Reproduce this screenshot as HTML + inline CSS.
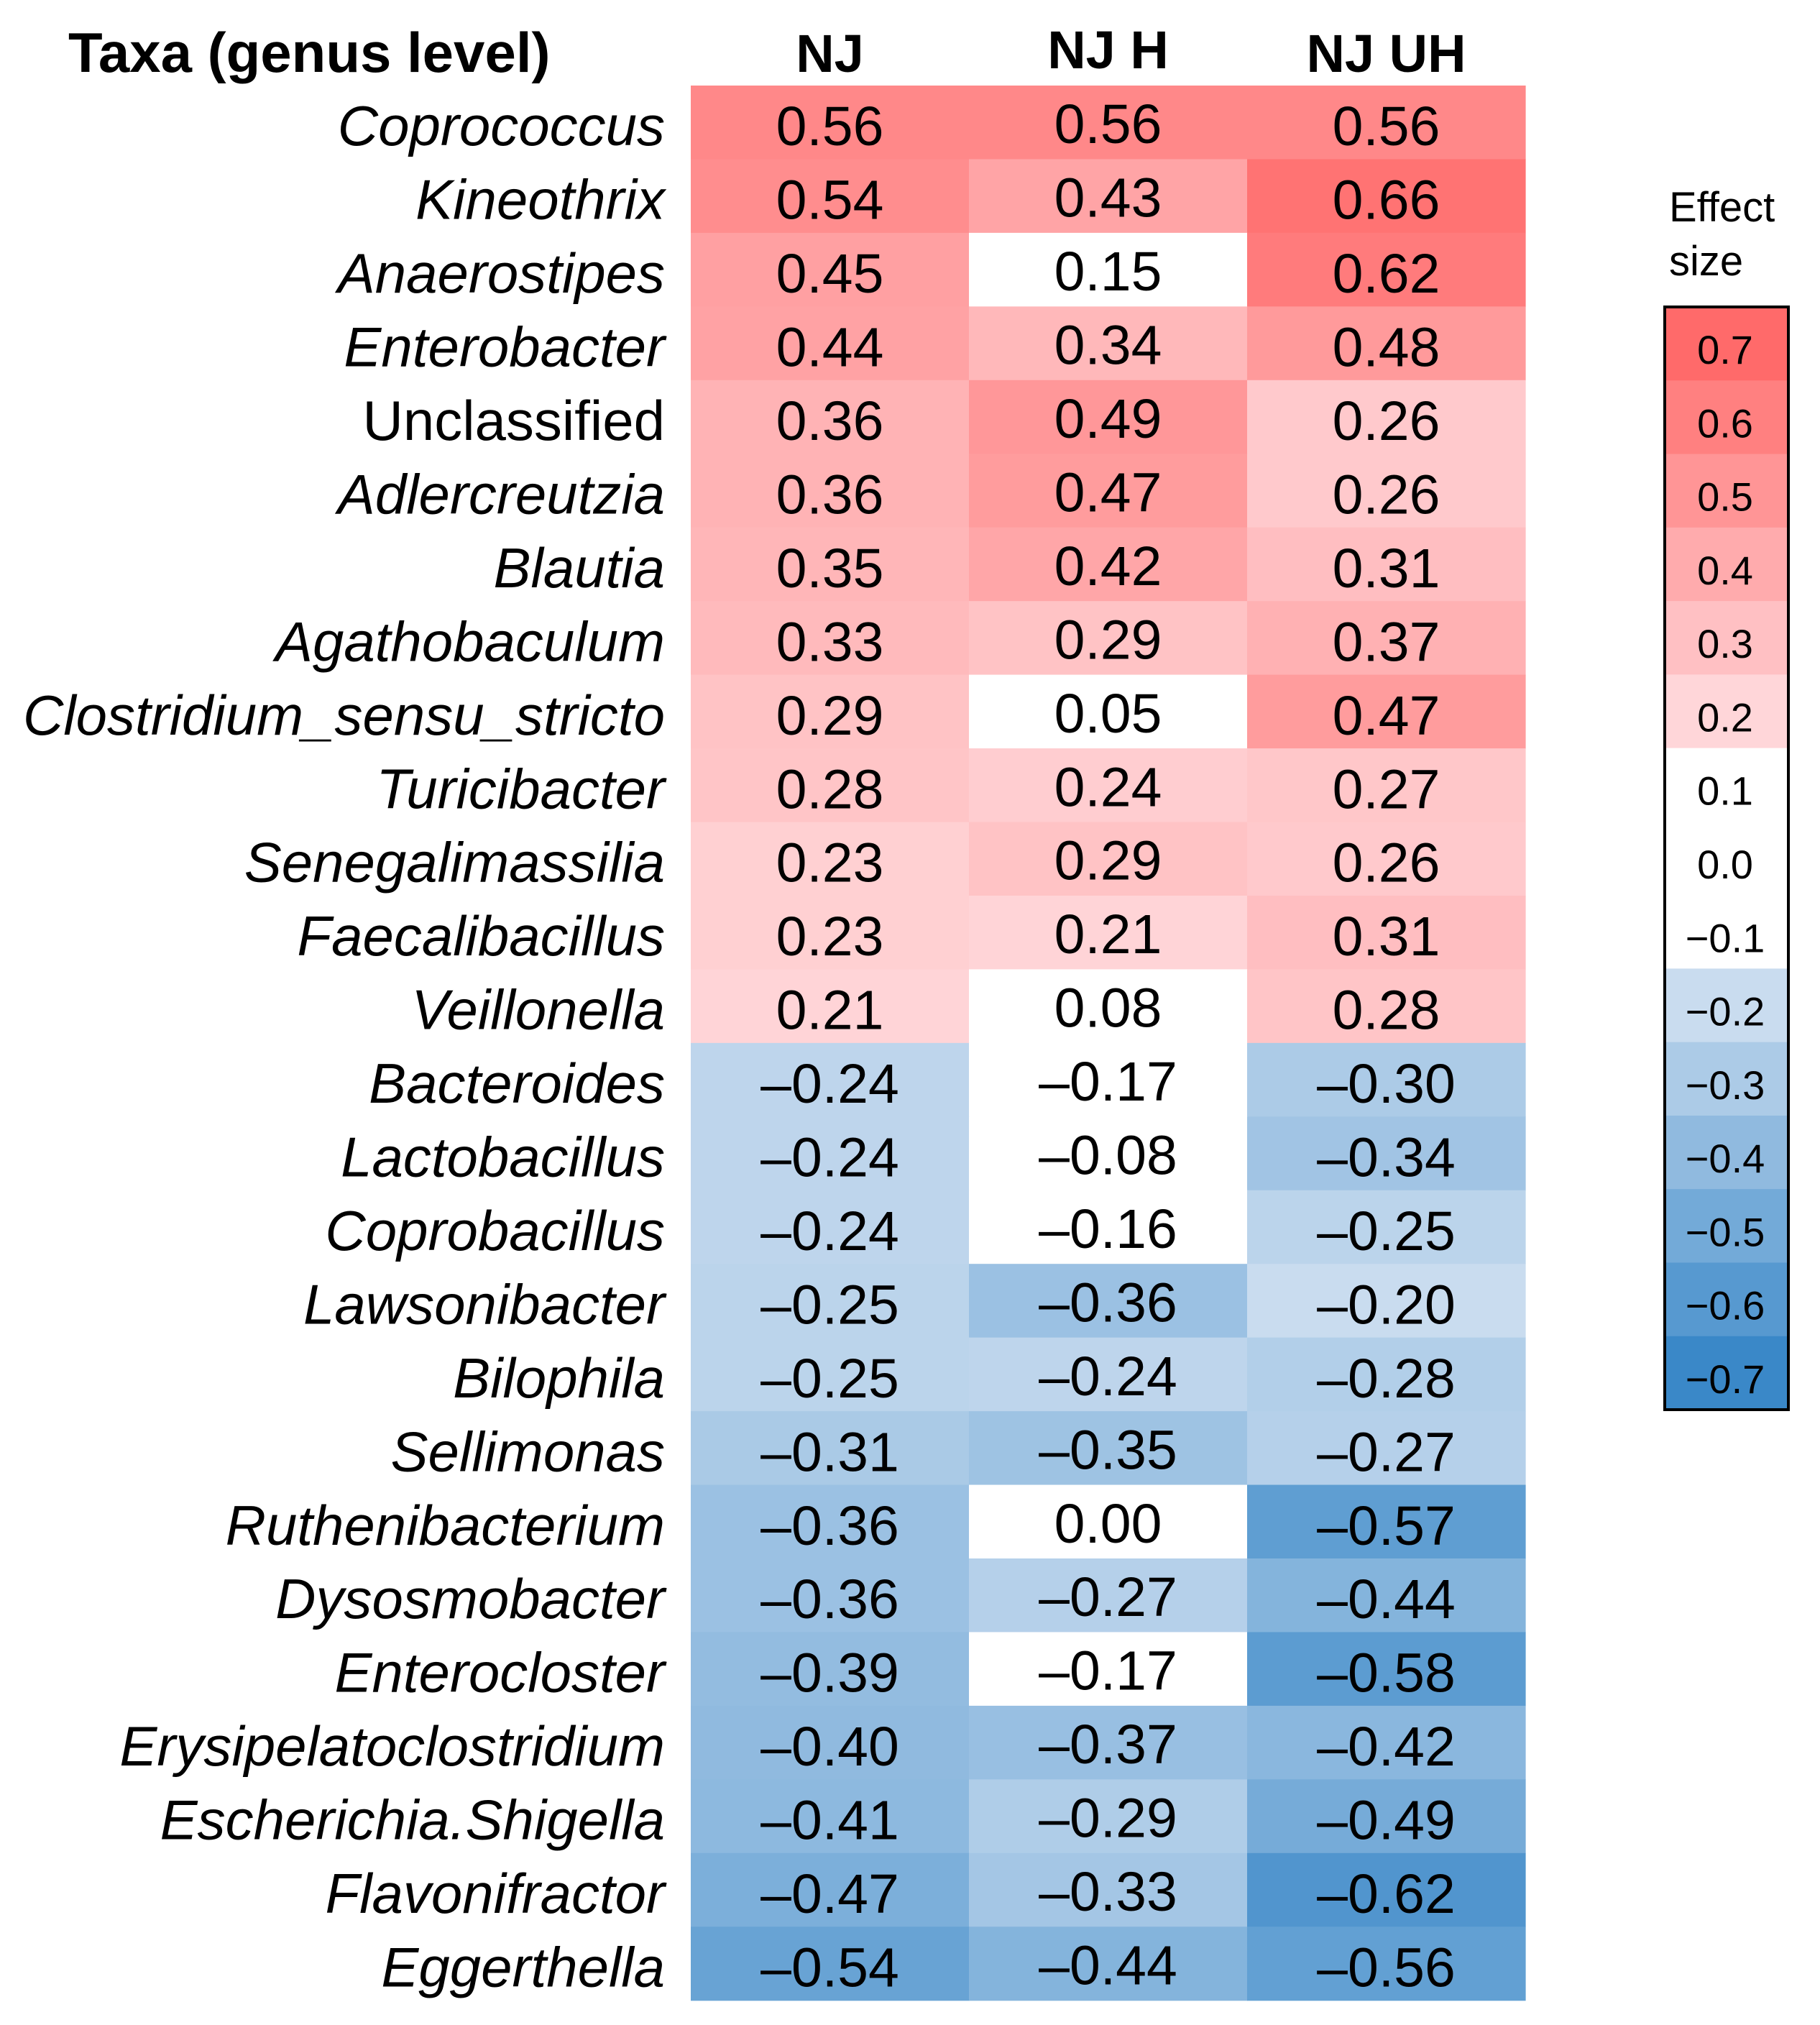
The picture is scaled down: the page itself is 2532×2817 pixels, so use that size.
<!DOCTYPE html>
<html><head><meta charset="utf-8"><style>
html,body{margin:0;padding:0;background:#fff;}
svg{display:block;font-family:"Liberation Sans",Arial,sans-serif;}
</style></head><body>
<svg id="chart" width="2532" height="2817" viewBox="0 0 2532 2817" xmlns="http://www.w3.org/2000/svg">
<rect width="2532" height="2817" fill="#fff"/>
<text x="95" y="100" font-size="78" font-weight="bold">Taxa (genus level)</text>
<g id="cols"></g><g id="cells"></g><g id="rows"></g>
<text x="2322" y="308" font-size="58">Effect</text>
<text x="2322" y="383" font-size="58">size</text>
<g id="legend"></g>
</svg>
<script>
const taxa = ["Coprococcus","Kineothrix","Anaerostipes","Enterobacter","Unclassified","Adlercreutzia","Blautia","Agathobaculum","Clostridium_sensu_stricto","Turicibacter","Senegalimassilia","Faecalibacillus","Veillonella","Bacteroides","Lactobacillus","Coprobacillus","Lawsonibacter","Bilophila","Sellimonas","Ruthenibacterium","Dysosmobacter","Enterocloster","Erysipelatoclostridium","Escherichia.Shigella","Flavonifractor","Eggerthella"];
const groups = ["NJ","NJ H","NJ UH"];
const valsNJ = [0.56,0.54,0.45,0.44,0.36,0.36,0.35,0.33,0.29,0.28,0.23,0.23,0.21,-0.24,-0.24,-0.24,-0.25,-0.25,-0.31,-0.36,-0.36,-0.39,-0.40,-0.41,-0.47,-0.54];
const valsNJH = [0.56,0.43,0.15,0.34,0.49,0.47,0.42,0.29,0.05,0.24,0.29,0.21,0.08,-0.17,-0.08,-0.16,-0.36,-0.24,-0.35,0.00,-0.27,-0.17,-0.37,-0.29,-0.33,-0.44];
const valsNJUH = [0.56,0.66,0.62,0.48,0.26,0.26,0.31,0.37,0.47,0.27,0.26,0.31,0.28,-0.30,-0.34,-0.25,-0.20,-0.28,-0.27,-0.57,-0.44,-0.58,-0.42,-0.49,-0.62,-0.56];
const legendTicks = [0.7,0.6,0.5,0.4,0.3,0.2,0.1,0.0,-0.1,-0.2,-0.3,-0.4,-0.5,-0.6,-0.7];

const NS="http://www.w3.org/2000/svg";
const X0=961, CW=387, Y0=119, RH=102.45;
const colX = i => X0 + i*CW;
const rowY = j => Y0 + j*RH;
function color(v){
  if (Math.abs(v) < 0.195) return "#ffffff";
  let a,b,t;
  if (v>0){ a=[255,214,217]; b=[255,106,106]; t=(v-0.2)/0.5; }
  else { a=[201,220,239]; b=[58,136,200]; t=(-v-0.2)/0.5; }
  t=Math.max(0,Math.min(1.1,t));
  const c=a.map((x,k)=>Math.round(x+(b[k]-x)*t));
  return `rgb(${c.join(",")})`;
}
const fmt = v => (v<0?"\u2013":"") + Math.abs(v).toFixed(2);
function mk(tag, attrs, parent){
  const e=document.createElementNS(NS,tag);
  for(const k in attrs) e.setAttribute(k,attrs[k]);
  parent.appendChild(e); return e;
}
const series=[valsNJ,valsNJH,valsNJUH];
const cols=document.getElementById("cols"), cells=document.getElementById("cells"), rows=document.getElementById("rows"), leg=document.getElementById("legend");
groups.forEach((g,i)=>{
  const t=mk("text",{x:colX(i)+CW/2,y:i===1?95:100,"font-size":74,"font-weight":"bold","text-anchor":"middle"},cols);
  
  
  t.textContent=g;
});
taxa.forEach((name,j)=>{
  const t=mk("text",{x:925,y:rowY(j)+RH/2+32,"font-size":78,"font-style":name==="Unclassified"?"normal":"italic","text-anchor":"end"},rows);
  
  
  t.textContent=name;
  series.forEach((s,i)=>{
    const r=mk("rect",{x:colX(i),y:rowY(j),width:CW+0.6,height:RH+0.6,fill:color(s[j])},cells);
    
    
    const tt=mk("text",{x:colX(i)+CW/2,y:rowY(j)+RH/2+32-(i===1?3:0),"font-size":77,"text-anchor":"middle"},cells);
    
    
    tt.textContent=fmt(s[j]);
  });
});
const LX=2316, LW=172, LY=427, LH=(1961-427)/legendTicks.length;
legendTicks.forEach((v,k)=>{
  const r=mk("rect",{x:LX,y:LY+k*LH,width:LW,height:LH+0.6,fill:color(v)},leg);
  
  
  const t=mk("text",{x:LX+LW/2-2,y:LY+k*LH+LH/2+28,"font-size":56,"text-anchor":"middle"},leg);
  
  
  t.textContent=(v<0?"\u2212":"")+Math.abs(v).toFixed(1);
});
const fr=mk("rect",{x:LX,y:LY,width:LW,height:LH*legendTicks.length,fill:"none",stroke:"#000","stroke-width":4},leg);


</script>
</body></html>
